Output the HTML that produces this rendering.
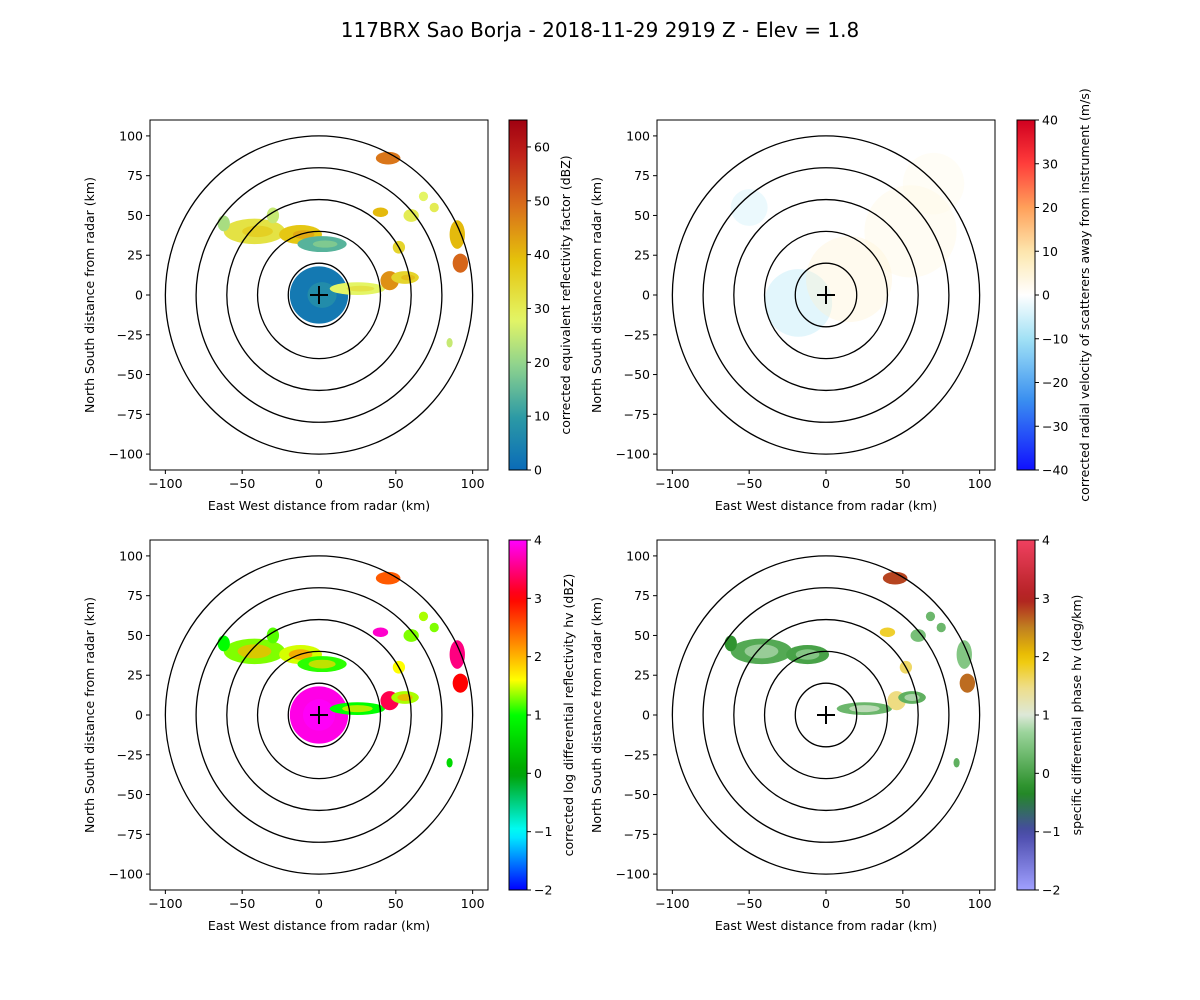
<!DOCTYPE html>
<html><head><meta charset="utf-8">
<style>
html,body{margin:0;padding:0;background:#fff;}
svg{display:block;font-family:"DejaVu Sans","Liberation Sans",sans-serif;}
</style></head>
<body>
<svg id="fig" width="1200" height="1000" viewBox="0 0 1200 1000" xmlns="http://www.w3.org/2000/svg">
<rect width="1200" height="1000" fill="#fff"/>
<text x="600" y="37" text-anchor="middle" font-size="20">117BRX Sao Borja - 2018-11-29 2919 Z -  Elev = 1.8</text>
</svg>
<script>
// ---- data ----
const axisTicks = [-100,-75,-50,-25,0,25,50,75,100];
const ringRadii = [20,40,60,80,100];
// echo geometry (km): x, y, rx, ry
const echoX  = [0, -42, -12, 2, 25, 46, 56, 60, 40, 90, 92, 45, -30, -62, 52, 85, 75, 68];
const echoY  = [0, 40, 38, 32, 4, 9, 11, 50, 52, 38, 20, 86, 50, 45, 30, -30, 55, 62];
const echoRX = [19, 20, 14, 16, 18, 6, 9, 5, 5, 5, 5, 8, 4, 4, 4, 2, 3, 3];
const echoRY = [18, 8, 6, 5, 4, 6, 4, 4, 3, 9, 6, 4, 5, 5, 4, 3, 3, 3];
// values per panel (null = no echo)
const reflValues = [3, 32, 38, 14, 28, 45, 35, 30, 40, 40, 50, 48, 25, 22, 35, 25, 30, 28];
const zdrValues  = [3.9, 1.3, 1.5, 1.1, 1.0, 3.3, 1.4, 1.3, 3.8, 3.5, 3.0, 2.5, 1.2, 1.0, 1.6, 0.6, 1.3, 1.4];
const kdpValues  = [null, 0.1, 0.0, null, 0.3, 1.5, 0.2, 0.4, 1.8, 0.5, 2.6, 2.8, null, -0.2, 1.6, 0.2, 0.3, 0.3];
// velocity wash regions
const velX = [-18, 15, 55, 70, -50];
const velY = [-5, 10, 40, 70, 55];
const velR = [22, 28, 30, 20, 12];
const velV = [-9, 6, 4, 3, -6];
const reflTicks = [0,10,20,30,40,50,60];
const velTicks = [-40,-30,-20,-10,0,10,20,30,40];
const zdrTicks = [-2,-1,0,1,2,3,4];
const kdpTicks = [-2,-1,0,1,2,3,4];

// ---- colormaps (normalized stops) ----
const cmRefl = [[0,"#0a6bb8"],[0.15,"#2c9aa5"],[0.3,"#8fd38d"],[0.43,"#e4f565"],[0.6,"#e5c20b"],[0.75,"#d9701a"],[0.9,"#c0221a"],[1,"#a00010"]];
const cmVel  = [[0,"#1010ff"],[0.2,"#3a8ff0"],[0.37,"#9ee0f5"],[0.5,"#ffffff"],[0.62,"#fde8b0"],[0.75,"#ffa05a"],[0.88,"#ff3a3a"],[1,"#d00020"]];
const cmZdr  = [[0,"#0000ff"],[0.166,"#00ffff"],[0.333,"#00a000"],[0.5,"#00ff00"],[0.6,"#ffff00"],[0.7,"#ff9000"],[0.833,"#ff0000"],[1,"#ff00ff"]];
const cmKdp  = [[0,"#a0a0ff"],[0.166,"#4848a8"],[0.28,"#228b22"],[0.45,"#9bd49b"],[0.5,"#dde8d8"],[0.58,"#eedd88"],[0.66,"#f0c800"],[0.75,"#c08020"],[0.83,"#b02020"],[1,"#f04060"]];

function hex(c){return [parseInt(c.substr(1,2),16),parseInt(c.substr(3,2),16),parseInt(c.substr(5,2),16)];}
function cmap(stops,t){
  t=Math.max(0,Math.min(1,t));
  for(let i=1;i<stops.length;i++){
    if(t<=stops[i][0]){
      const a=hex(stops[i-1][1]),b=hex(stops[i][1]);
      const f=(t-stops[i-1][0])/(stops[i][0]-stops[i-1][0]);
      return "rgb("+a.map((v,k)=>Math.round(v+(b[k]-v)*f)).join(",")+")";
    }
  }
  return stops[stops.length-1][1];
}
const NS="http://www.w3.org/2000/svg";
const svg=document.getElementById("fig");
function mk(tag,attrs,parent){const e=document.createElementNS(NS,tag);for(const k in attrs)e.setAttribute(k,attrs[k]);(parent||svg).appendChild(e);return e;}

const panels=[
 {ax:150,ay:120,cb:509,lo:57,cm:cmRefl,min:0,max:65,ticks:reflTicks,label:"corrected equivalent reflectivity factor (dBZ)",vals:reflValues,name:"reflectivity"},
 {ax:657,ay:120,cb:1017,lo:68,cm:cmVel,min:-40,max:40,ticks:velTicks,label:"corrected radial velocity of scatterers away from instrument (m/s)",vals:null,name:"velocity"},
 {ax:150,ay:540,cb:509,lo:60,cm:cmZdr,min:-2,max:4,ticks:zdrTicks,label:"corrected log differential reflectivity hv (dBZ)",vals:zdrValues,name:"zdr"},
 {ax:657,ay:540,cb:1017,lo:60,cm:cmKdp,min:-2,max:4,ticks:kdpTicks,label:"specific differential phase hv (deg/km)",vals:kdpValues,name:"kdp"}
];
const AW=338,AH=350;
panels.forEach((p,pi)=>{
  const sx=v=>p.ax+(v+110)/220*AW;
  const sy=v=>p.ay+AH-(v+110)/220*AH;
  const kx=AW/220,ky=AH/220;
  const g=mk("g",{});
  
  
  const clipId="clip"+pi;
  const cp=mk("clipPath",{id:clipId},g);mk("rect",{x:p.ax,y:p.ay,width:AW,height:AH},cp);
  const data=mk("g",{"clip-path":"url(#"+clipId+")"},g);
  if(p.vals){
    p.vals.forEach((v,i)=>{
      if(v===null)return;
      const t=(v-p.min)/(p.max-p.min);
      const e=mk("ellipse",{cx:sx(echoX[i]),cy:sy(echoY[i]),rx:echoRX[i]*kx,ry:echoRY[i]*ky,fill:cmap(p.cm,t)},data);
      
      
      if(echoRX[i]>8&&pi!==0){
        const t2=Math.min(1,t+0.12);
        mk("ellipse",{cx:sx(echoX[i]),cy:sy(echoY[i]),rx:echoRX[i]*kx*0.55,ry:echoRY[i]*ky*0.55,fill:cmap(p.cm,t2),opacity:0.7},data);
      }else if(echoRX[i]>8){
        mk("ellipse",{cx:sx(echoX[i]+2),cy:sy(echoY[i]),rx:echoRX[i]*kx*0.5,ry:echoRY[i]*ky*0.45,fill:cmap(p.cm,Math.min(1,t+0.1)),opacity:0.6},data);
      }
    });
  }else{
    velV.forEach((v,i)=>{
      const e=mk("circle",{cx:sx(velX[i]),cy:sy(velY[i]),r:velR[i]*kx,fill:cmap(p.cm,(v-p.min)/(p.max-p.min)),opacity:0.35},data);
      
      
    });
  }
  ringRadii.forEach(r=>{
    const c=mk("ellipse",{cx:sx(0),cy:sy(0),rx:r*kx,ry:r*ky,fill:"none",stroke:"#000","stroke-width":1.3},g);
    
    
  });
  mk("path",{d:`M${sx(0)-9},${sy(0)}h18M${sx(0)},${sy(0)-9}v18`,stroke:"#000","stroke-width":2},g);
  mk("rect",{x:p.ax,y:p.ay,width:AW,height:AH,fill:"none",stroke:"#000","stroke-width":1},g);
  axisTicks.forEach(v=>{
    if(v%50===0){
      mk("line",{x1:sx(v),x2:sx(v),y1:p.ay+AH,y2:p.ay+AH+4,stroke:"#000"},g);
      const t=mk("text",{x:sx(v),y:p.ay+AH+18,"text-anchor":"middle","font-size":12.5},g);t.textContent=(v<0?"\u2212"+(-v):v);
    }
    mk("line",{x1:p.ax-4,x2:p.ax,y1:sy(v),y2:sy(v),stroke:"#000"},g);
    const t2=mk("text",{x:p.ax-7,y:sy(v)+4.5,"text-anchor":"end","font-size":12.5},g);t2.textContent=(v<0?"\u2212"+(-v):v);
  });
  const xl=mk("text",{x:p.ax+AW/2,y:p.ay+AH+40,"text-anchor":"middle","font-size":12.5},g);
  xl.textContent="East West distance from radar (km)";
  
  
  const yl=mk("text",{transform:`translate(${p.ax-56},${p.ay+AH/2}) rotate(-90)`,"text-anchor":"middle","font-size":12.5},g);
  yl.textContent="North South distance from radar (km)";
  
  
  // colorbar
  const cg=mk("g",{},g);
  
  
  const gid="grad"+pi;
  const lg=mk("linearGradient",{id:gid,x1:0,y1:1,x2:0,y2:0},cg);
  for(let i=0;i<=40;i++){mk("stop",{offset:i/40,"stop-color":cmap(p.cm,i/40)},lg);}
  mk("rect",{x:p.cb,y:p.ay,width:18,height:AH,fill:`url(#${gid})`,stroke:"#000","stroke-width":1},cg);
  p.ticks.forEach(v=>{
    const y=p.ay+AH-(v-p.min)/(p.max-p.min)*AH;
    mk("line",{x1:p.cb+18,x2:p.cb+22,y1:y,y2:y,stroke:"#000"},cg);
    const t=mk("text",{x:p.cb+25,y:y+4.5,"font-size":12.5},cg);t.textContent=(v<0?"\u2212"+(-v):v);
  });
  const cl=mk("text",{transform:`translate(${p.cb+p.lo+4},${p.ay+AH/2}) rotate(-90)`,"text-anchor":"middle","font-size":12.5},cg);
  cl.textContent=p.label;
});
</script>
</body></html>
